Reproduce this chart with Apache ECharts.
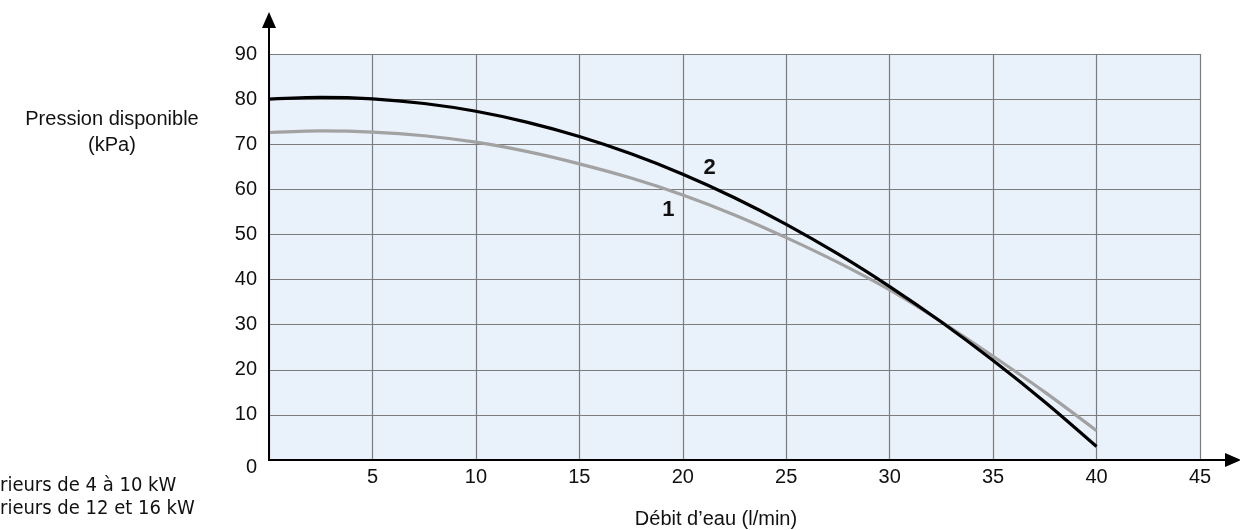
<!DOCTYPE html>
<html><head><meta charset="utf-8">
<script src="https://cdn.jsdelivr.net/npm/echarts@6.0.0/dist/echarts.min.js"></script>
<style>html,body{margin:0;padding:0;background:#fff}#c{width:1240px;height:530px}</style>
</head><body><div id="c"></div>
<script>
// Data
const flow = [0, 2.5, 5, 7.5, 10, 12.5, 15, 17.5, 20, 22.5, 25, 27.5, 30, 32.5, 35, 37.5, 40];
const curve1 = [72.6, 72.95, 72.7, 71.88, 70.45, 68.35, 65.65, 62.5, 58.75, 54.33, 49.3, 43.8, 37.7, 30.65, 23.0, 15.05, 6.5]; // 4 à 10 kW
const curve2 = [80.0, 80.37, 80.05, 79.02, 77.3, 74.84, 71.7, 67.87, 63.35, 58.14, 52.25, 45.69, 38.45, 30.59, 22.05, 12.87, 3.0]; // 12 et 16 kW
const curveNames = ['1', '2'];
const curveLabelPos = [[19.3, 55.4], [21.3, 64.7]];
const xMin = 0, xMax = 45, xStep = 5;
const yMin = 0, yMax = 90, yStep = 10;
const xTitle = 'Débit d’eau (l/min)';
const yTitle = ['Pression disponible', '(kPa)'];
const legendLines = ['1 : Modules intérieurs de 4 à 10 kW', '2 : Modules intérieurs de 12 et 16 kW'];
const legendHiddenPrefix = ['1 : Modules inté', '2 : Modules inté'];

const chart = echarts.init(document.getElementById('c'), null, {renderer: 'canvas'});
const FONT = '"Liberation Sans", Arial, sans-serif';
const LFONT = '"DejaVu Sans Condensed", "Liberation Sans Narrow", "DejaVu Sans", sans-serif';

function pairs(ys) { return flow.map((x, i) => [x, ys[i]]); }

const option = {
  animation: false,
  backgroundColor: '#ffffff',
  grid: {left: 269, right: 40, top: 54, bottom: 70, show: true, backgroundColor: '#e9f1fb', borderWidth: 0},
  xAxis: {
    type: 'value', min: xMin, max: xMax, interval: xStep,
    axisLine: {show: false}, axisTick: {show: false},
    axisLabel: {color: '#111', fontSize: 20, fontFamily: FONT, margin: 7,
      formatter: v => v === 0 ? '' : String(v)},
    splitLine: {show: true, lineStyle: {color: '#7c7c7c', width: 1.2}}
  },
  yAxis: {
    type: 'value', min: yMin, max: yMax, interval: yStep,
    axisLine: {show: false}, axisTick: {show: false},
    axisLabel: {color: '#111', fontSize: 20, fontFamily: FONT, margin: 12,
      formatter: v => v === 0 ? '' : String(v)},
    splitLine: {show: true, lineStyle: {color: '#7c7c7c', width: 1.2}}
  },
  series: [
    {type: 'line', name: curveNames[0], data: pairs(curve1), smooth: 0.3, showSymbol: false,
     lineStyle: {color: '#a2a2a2', width: 3.2}, z: 3,
     markPoint: {symbol: 'circle', symbolSize: 0, silent: true,
       label: {show: true, position: 'inside', formatter: curveNames[0], fontSize: 22, fontWeight: 'bold', color: '#111', fontFamily: FONT},
       data: [{coord: curveLabelPos[0]}]}},
    {type: 'line', name: curveNames[1], data: pairs(curve2), smooth: 0.3, showSymbol: false,
     lineStyle: {color: '#000000', width: 3.2}, z: 4,
     markPoint: {symbol: 'circle', symbolSize: 0, silent: true,
       label: {show: true, position: 'inside', formatter: curveNames[1], fontSize: 22, fontWeight: 'bold', color: '#111', fontFamily: FONT},
       data: [{coord: curveLabelPos[1]}]}}
  ]
};
chart.setOption(option);

const o = chart.convertToPixel({gridIndex: 0}, [xMin, yMin]);
const ox = o[0], oy = o[1];
const W = 1240;
const ctx = document.createElement('canvas').getContext('2d');
ctx.font = '20px ' + LFONT;

const g = [
  {type: 'line', shape: {x1: ox, y1: oy + 1, x2: ox, y2: 24}, style: {stroke: '#000', lineWidth: 2}, z: 100},
  {type: 'polygon', shape: {points: [[ox, 12], [ox - 7, 28], [ox + 7, 28]]}, style: {fill: '#000'}, z: 100},
  {type: 'line', shape: {x1: ox - 1, y1: oy, x2: W - 8, y2: oy}, style: {stroke: '#000', lineWidth: 2}, z: 100},
  {type: 'polygon', shape: {points: [[W + 1, oy], [W - 15, oy - 7], [W - 15, oy + 7]]}, style: {fill: '#000'}, z: 100},
  {type: 'text', x: ox - 12, y: oy + 7, style: {text: '0', font: '20px ' + FONT, fill: '#111', textAlign: 'right', textVerticalAlign: 'middle'}},
  {type: 'text', x: 112, y: 119, style: {text: yTitle[0], font: '20px ' + FONT, fill: '#111', textAlign: 'center', textVerticalAlign: 'middle'}},
  {type: 'text', x: 112, y: 145, style: {text: yTitle[1], font: '20px ' + FONT, fill: '#111', textAlign: 'center', textVerticalAlign: 'middle'}},
  {type: 'text', x: 716, y: 519, style: {text: xTitle, font: '20px ' + FONT, fill: '#111', textAlign: 'center', textVerticalAlign: 'middle'}}
];
legendLines.forEach((t, i) => {
  const w = ctx.measureText(legendHiddenPrefix[i]).width;
  g.push({type: 'text', x: -w, y: 486 + i * 23, style: {text: t, font: '20px ' + LFONT, fill: '#111', textAlign: 'left', textVerticalAlign: 'middle'}});
});
chart.setOption({graphic: g});
</script></body></html>
